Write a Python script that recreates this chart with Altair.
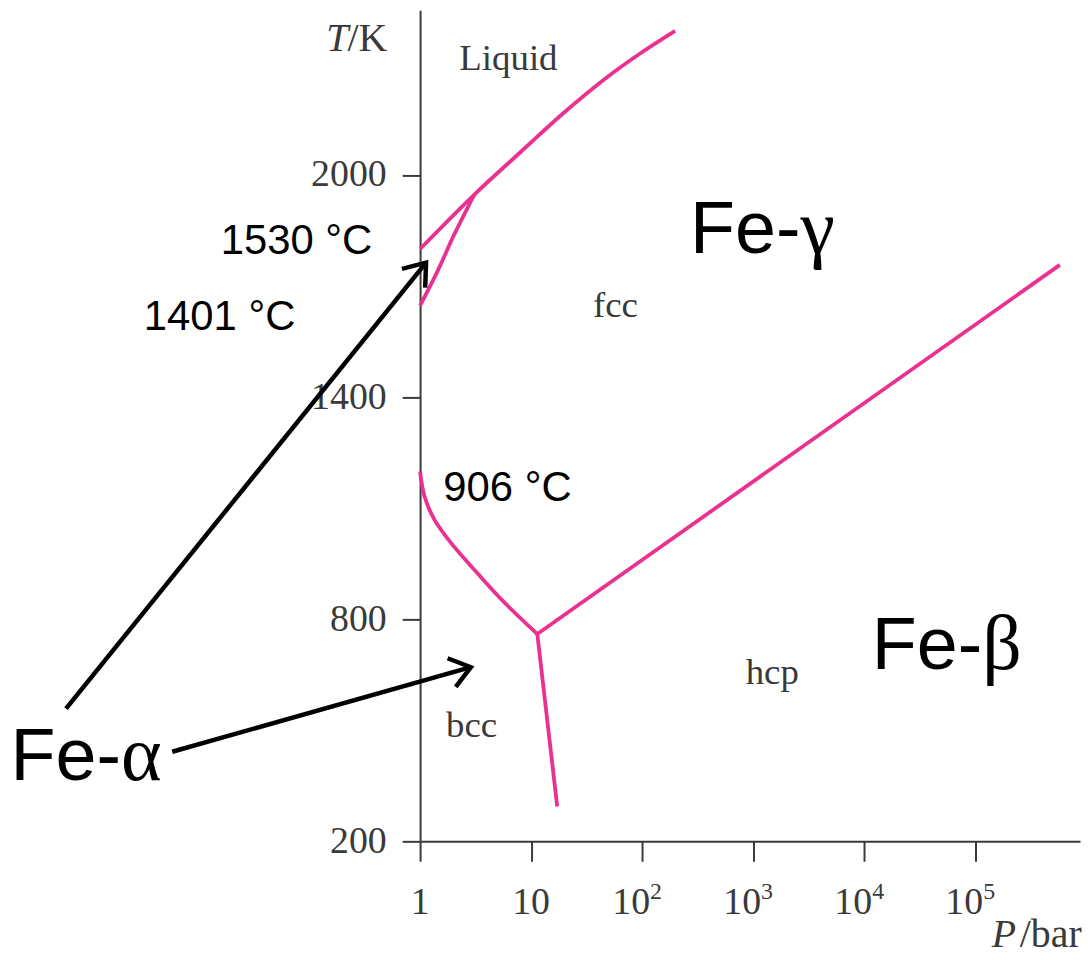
import math
import altair as alt
import pandas as pd

# ---------------- data ----------------
# phase boundaries: pressure in bar, temperature in K
P_melt = [1, 3.08, 8.05, 19.7, 48.3, 96, 198]
T_melt = [1800, 1947, 2062, 2168, 2264, 2328, 2389]
P_delta = [1, 1.44, 2.035, 2.77, 3.08]
T_delta = [1647, 1741, 1840, 1920, 1947]
P_alpha_gamma = [1, 1.095, 1.346, 1.897, 3.29, 5.71, 11.37]
T_alpha_gamma = [1199, 1132, 1069, 1006, 924, 846, 760]
P_alpha_eps = [11.37, 17.18]
T_alpha_eps = [760, 294]
P_gamma_eps = [11.37, 5.79e5]
T_gamma_eps = [760, 1757]

x_ticks = [1, 10, 100, 1000, 10000, 100000]
x_tick_base = ["1", "10", "10", "10", "10", "10"]
x_tick_exp = ["", "", "2", "3", "4", "5"]
y_ticks = [200, 800, 1400, 2000]

# region labels (serif, centred)
phase_names = ["Liquid", "fcc", "bcc", "hcp"]
phase_P = [6.25, 57.5, 2.91, 1486]
phase_T = [2283, 1617, 482, 625.5]

# temperature notes (sans, left aligned)
note_texts = ["1530 °C", "1401 °C", "906 °C"]
note_P = [0.0160, 0.00325, 1.62]
note_T = [1786, 1580, 1120]

# big phase names "Fe-" + greek letter
fe_greek = ["γ", "β", "α"]
fe_P = [270, 11700, 2.05e-4]
fe_T = [1790, 665.8, 365.6]

# arrows: start -> tip
arrow_P0 = [6.47e-4, 5.85e-3]
arrow_T0 = [558.3, 442]
arrow_P1 = [1.132, 2.866]
arrow_T1 = [1763, 670.4]

# ---------------- layout ----------------
W, H = 663, 835
XMAX = 10 ** 5.944
YMIN, YMAX = 200, 2445
PINK = "#ea3190"
AXC = "#3a3a3a"
SERIF = "Liberation Serif"
SANS = "Liberation Sans"

px_per_dec = W / math.log10(XMAX)
px_per_K = H / (YMAX - YMIN)

xs = alt.Scale(type="log", domain=[1, XMAX], nice=False)
ys = alt.Scale(domain=[YMIN, YMAX], nice=False, zero=False)

rows = []
for name, P, T in [("melt", P_melt, T_melt), ("delta", P_delta, T_delta),
                   ("ag", P_alpha_gamma, T_alpha_gamma), ("ae", P_alpha_eps, T_alpha_eps),
                   ("ge", P_gamma_eps, T_gamma_eps)]:
    for i, (p, t) in enumerate(zip(P, T)):
        rows.append({"curve": name, "i": i, "P": p, "T": t})
curves = pd.DataFrame(rows)

x_axis = alt.Axis(values=x_ticks, labels=False, title=None, grid=False,
                  tickSize=20, tickWidth=2, tickColor=AXC, domainColor=AXC, domainWidth=2)
y_axis = alt.Axis(values=y_ticks, format="d", title=None, grid=False,
                  tickSize=18, tickWidth=2, tickColor=AXC, domainColor=AXC, domainWidth=2,
                  labelFont=SERIF, labelFontSize=38, labelColor=AXC, labelPadding=16,
                  labelOverlap=False, labelFlush=False)

lines = alt.Chart(curves).mark_line(color=PINK, strokeWidth=3.8, interpolate="catmull-rom").encode(
    x=alt.X("P:Q", scale=xs, axis=x_axis),
    y=alt.Y("T:Q", scale=ys, axis=y_axis),
    detail="curve:N",
    order="i:Q",
)

# x tick labels drawn as text below the axis (base + superscript exponent)
base_baseline_T = YMIN - 73.4 / px_per_K
exp_baseline_T = YMIN - 58.0 / px_per_K
xl_df = pd.DataFrame({"P": x_ticks, "b": x_tick_base, "e": x_tick_exp,
                      "Tb": [base_baseline_T] * 6, "Te": [exp_baseline_T] * 6})
xl_plain = alt.Chart(xl_df.iloc[:2]).mark_text(font=SERIF, fontSize=38, color=AXC, align="center",
                                               baseline="alphabetic", clip=False).encode(
    x=alt.X("P:Q", scale=xs), y=alt.Y("Tb:Q", scale=ys), text="b:N")
xl_pow = alt.Chart(xl_df.iloc[2:]).mark_text(font=SERIF, fontSize=38, color=AXC, align="right",
                                             baseline="alphabetic", dx=8, clip=False).encode(
    x=alt.X("P:Q", scale=xs), y=alt.Y("Tb:Q", scale=ys), text="b:N")
xl_exp = alt.Chart(xl_df.iloc[2:]).mark_text(font=SERIF, fontSize=24, color=AXC, align="left",
                                             baseline="alphabetic", dx=8, clip=False).encode(
    x=alt.X("P:Q", scale=xs), y=alt.Y("Te:Q", scale=ys), text="e:N")

phase_df = pd.DataFrame({"t": phase_names, "P": phase_P, "T": phase_T})
phase_txt = alt.Chart(phase_df).mark_text(font=SERIF, fontSize=37, color=AXC, align="center",
                                          baseline="alphabetic", clip=False).encode(
    x=alt.X("P:Q", scale=xs), y=alt.Y("T:Q", scale=ys), text="t:N")

note_df = pd.DataFrame({"t": note_texts, "P": note_P, "T": note_T})
note_txt = alt.Chart(note_df).mark_text(font=SANS, fontSize=42, color="black", align="left",
                                        baseline="alphabetic", clip=False).encode(
    x=alt.X("P:Q", scale=xs), y=alt.Y("T:Q", scale=ys), text="t:N")

fe_df = pd.DataFrame({"g": fe_greek, "P": fe_P, "T": fe_T, "fe": ["Fe-"] * 3})
fe_txt = alt.Chart(fe_df).mark_text(font=SANS, fontSize=74, color="black", align="left",
                                    baseline="alphabetic", clip=False).encode(
    x=alt.X("P:Q", scale=xs), y=alt.Y("T:Q", scale=ys), text="fe:N")
greek_txt = alt.Chart(fe_df).mark_text(font=SERIF, fontSize=78, color="black", align="left",
                                       baseline="alphabetic", dx=111, clip=False).encode(
    x=alt.X("P:Q", scale=xs), y=alt.Y("T:Q", scale=ys), text="g:N")

# arrow heads: angle computed in screen space from the scales
angles = []
for p0, t0, p1, t1 in zip(arrow_P0, arrow_T0, arrow_P1, arrow_T1):
    dx = (math.log10(p1) - math.log10(p0)) * px_per_dec
    dy = -(t1 - t0) * px_per_K
    angles.append(math.degrees(math.atan2(dy, dx)) % 360)

arr_df = pd.DataFrame({"P0": arrow_P0, "T0": arrow_T0, "P1": arrow_P1, "T1": arrow_T1, "ang": angles})
shafts = alt.Chart(arr_df).mark_rule(color="black", strokeWidth=4.5, clip=False).encode(
    x=alt.X("P0:Q", scale=xs), y=alt.Y("T0:Q", scale=ys), x2="P1:Q", y2="T1:Q")
heads = alt.Chart(arr_df).mark_point(shape="M -1 -0.75 L 0 0 L -1 0.75", filled=False,
                                     strokeWidth=4.5, size=1600, color="black", opacity=1,
                                     clip=False).encode(
    x=alt.X("P1:Q", scale=xs), y=alt.Y("T1:Q", scale=ys),
    angle=alt.Angle("ang:Q", scale=None))

# axis titles with italic symbols
title_df = pd.DataFrame({"sym": ["T", "P"], "unit": ["/K", "/bar"],
                         "P": [0.506, 9.1e5], "T": [2336, -86]})
unit_txt = alt.Chart(title_df).mark_text(font=SERIF, fontSize=40, color=AXC, align="right",
                                         baseline="alphabetic", clip=False).encode(
    x=alt.X("P:Q", scale=xs), y=alt.Y("T:Q", scale=ys), text="unit:N")
sym_T = alt.Chart(title_df.iloc[[0]]).mark_text(font=SERIF, fontSize=40, fontStyle="italic", color=AXC,
                                                align="right", baseline="alphabetic", dx=-39,
                                                clip=False).encode(
    x=alt.X("P:Q", scale=xs), y=alt.Y("T:Q", scale=ys), text="sym:N")
sym_P = alt.Chart(title_df.iloc[[1]]).mark_text(font=SERIF, fontSize=40, fontStyle="italic", color=AXC,
                                                align="right", baseline="alphabetic", dx=-66,
                                                clip=False).encode(
    x=alt.X("P:Q", scale=xs), y=alt.Y("T:Q", scale=ys), text="sym:N")

chart = alt.layer(lines, xl_plain, xl_pow, xl_exp, phase_txt, note_txt, fe_txt, greek_txt,
                  shafts, heads, unit_txt, sym_T, sym_P).properties(
    width=W, height=H,
    padding={"left": 414, "top": 0, "right": 4, "bottom": 116},
    autosize=alt.AutoSizeParams(type="none"),
    background="white",
).configure_view(stroke=None)

chart.save("out.html", embed_options={"renderer": "svg", "actions": False})
